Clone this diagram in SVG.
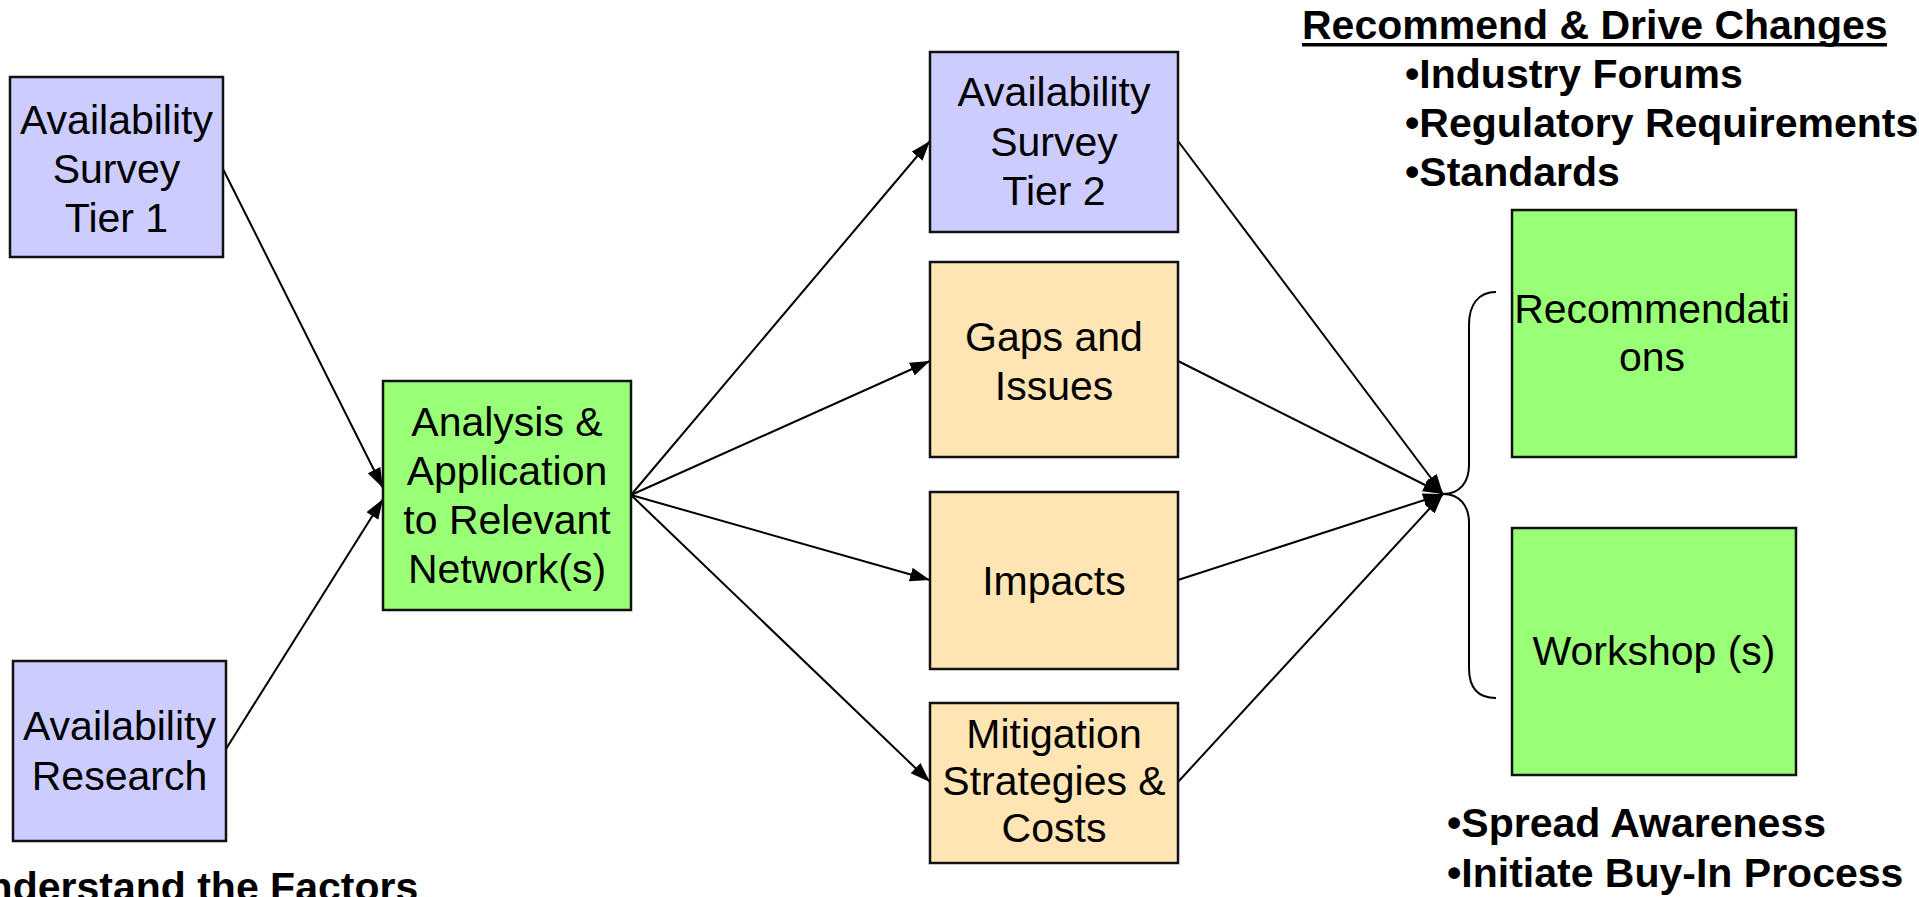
<svg xmlns="http://www.w3.org/2000/svg" width="1919" height="897" viewBox="0 0 1919 897">
<style>
.box{stroke:#111;stroke-width:2.5}
.blue{fill:#CCCCFF}
.green{fill:#99FF77}
.peach{fill:#FFE5B3}
.t{font-family:"Liberation Sans",Arial,sans-serif;font-size:41px;fill:#000;text-anchor:middle}
.b{font-family:"Liberation Sans",Arial,sans-serif;font-size:41px;font-weight:bold;fill:#000}
.c{stroke:#000;stroke-width:2;fill:none}
</style>
<defs>
<marker id="ah" markerUnits="userSpaceOnUse" markerWidth="22" markerHeight="16" refX="20" refY="7" orient="auto">
<path d="M0,0 L20,7 L0,14 z" fill="#000"/>
</marker>
</defs>
<rect width="1919" height="897" fill="#fff"/>
<g id="connectors">
<line class="c" x1="223" y1="169" x2="383" y2="488" marker-end="url(#ah)"/>
<line class="c" x1="226" y1="749" x2="383" y2="499" marker-end="url(#ah)"/>
<line class="c" x1="631" y1="495" x2="930" y2="141" marker-end="url(#ah)"/>
<line class="c" x1="631" y1="495" x2="930" y2="361" marker-end="url(#ah)"/>
<line class="c" x1="631" y1="495" x2="930" y2="580" marker-end="url(#ah)"/>
<line class="c" x1="631" y1="495" x2="930" y2="782" marker-end="url(#ah)"/>
<line class="c" x1="1178" y1="141" x2="1443" y2="494" marker-end="url(#ah)"/>
<line class="c" x1="1178" y1="361" x2="1443" y2="494" marker-end="url(#ah)"/>
<line class="c" x1="1178" y1="580" x2="1443" y2="494" marker-end="url(#ah)"/>
<line class="c" x1="1178" y1="782" x2="1443" y2="494" marker-end="url(#ah)"/>
<path class="c" d="M1496,292 C1478,292 1469,305 1469,325 L1469,465 C1469,482 1460,494 1443,494 C1460,494 1469,506 1469,523 L1469,668 C1469,688 1478,698 1496,698"/>
</g>
<g id="tier1">
<rect class="box blue" x="10" y="77" width="213" height="180"/>
<text class="t" x="116.5" y="134">Availability</text>
<text class="t" x="116.5" y="183">Survey</text>
<text class="t" x="116.5" y="232">Tier 1</text>
</g>
<g id="research">
<rect class="box blue" x="13" y="661" width="213" height="180"/>
<text class="t" x="119.5" y="740">Availability</text>
<text class="t" x="119.5" y="790">Research</text>
</g>
<g id="analysis">
<rect class="box green" x="383" y="381" width="248" height="229"/>
<text class="t" x="507" y="436">Analysis &amp;</text>
<text class="t" x="507" y="485">Application</text>
<text class="t" x="507" y="534">to Relevant</text>
<text class="t" x="507" y="583">Network(s)</text>
</g>
<g id="tier2">
<rect class="box blue" x="930" y="52" width="248" height="180"/>
<text class="t" x="1054" y="106">Availability</text>
<text class="t" x="1054" y="156">Survey</text>
<text class="t" x="1054" y="205">Tier 2</text>
</g>
<g id="gaps">
<rect class="box peach" x="930" y="262" width="248" height="195"/>
<text class="t" x="1054" y="351">Gaps and</text>
<text class="t" x="1054" y="400">Issues</text>
</g>
<g id="impacts">
<rect class="box peach" x="930" y="492" width="248" height="177"/>
<text class="t" x="1054" y="595">Impacts</text>
</g>
<g id="mitigation">
<rect class="box peach" x="930" y="703" width="248" height="160"/>
<text class="t" x="1054" y="748">Mitigation</text>
<text class="t" x="1054" y="795">Strategies &amp;</text>
<text class="t" x="1054" y="842">Costs</text>
</g>
<g id="recommendations">
<rect class="box green" x="1512" y="210" width="284" height="247"/>
<text class="t" x="1652" y="323">Recommendati</text>
<text class="t" x="1652" y="371">ons</text>
</g>
<g id="workshop">
<rect class="box green" x="1512" y="528" width="284" height="247"/>
<text class="t" x="1654" y="665">Workshop (s)</text>
</g>
<g id="labels">
<text class="b" x="1302" y="39">Recommend &amp; Drive Changes</text>
<rect x="1302" y="43" width="585" height="3.5" fill="#000"/>
<text class="b" x="1405" y="88">•Industry Forums</text>
<text class="b" x="1405" y="137">•Regulatory Requirements</text>
<text class="b" x="1405" y="186">•Standards</text>
<text class="b" x="1447" y="837">•Spread Awareness</text>
<text class="b" x="1447" y="887">•Initiate Buy-In Process</text>
<text class="b" x="-42" y="901">Understand the Factors</text>
</g>
</svg>
